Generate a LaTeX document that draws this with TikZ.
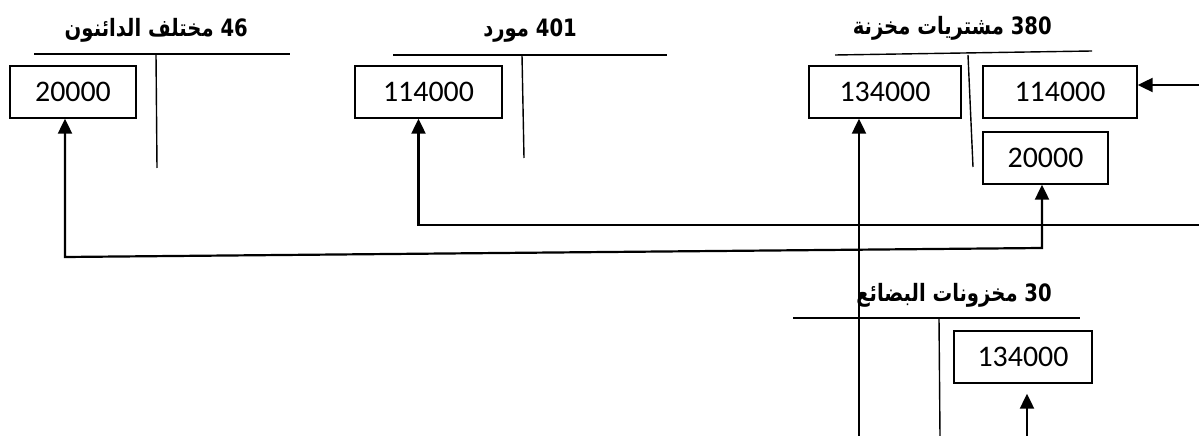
\documentclass[tikz,border=0pt]{standalone}
\usepackage{fontspec}
\setmainfont{Carlito}
\newfontfamily\arabicfont[Script=Arabic]{DejaVu Sans}
\TeXXeTstate=1
\usetikzlibrary{arrows.meta}
\newcommand{\acct}[1]{\scalebox{0.82}[1]{\beginR #1\endR}}
\begin{document}
\begin{tikzpicture}[x=1bp,y=-1bp,>={Triangle[length=15bp,width=14bp]},
    amount/.style={draw,line width=1.4bp,minimum height=52bp,inner sep=0pt,font=\fontsize{30}{32}\selectfont},
    title/.style={anchor=base east,inner sep=0pt,font=\arabicfont\bfseries\fontsize{24}{26}\selectfont},
    tline/.style={line width=1.4bp},
    flow/.style={line width=2.2bp,->}]
    \useasboundingbox (0,0) rectangle (1199,436);
    \node[title] (t46) at (248,37) {\acct{46 مختلف الدائنون}};
    \draw[tline] (34,54) -- (290,54);
    \draw[tline] (156,54) -- (157,168);
    \node[amount,minimum width=126bp] (b46) at (73,92) {20000};
    \node[title] (t401) at (577,37) {\acct{401 مورد}};
    \draw[tline] (393,55) -- (667,55);
    \draw[tline] (522,55) -- (524,158);
    \node[amount,minimum width=147bp] (b401) at (428.5,92) {114000};
    \node[title] (t380) at (1052,35) {\acct{380 مشتريات مخزنة}};
    \draw[tline] (835,55) -- (1092,51);
    \draw[tline] (968,55) -- (973,167);
    \node[amount,minimum width=152bp] (b380l) at (885,92) {134000};
    \node[amount,minimum width=154bp] (b380r) at (1060,92) {114000};
    \node[amount,minimum width=125bp] (b380d) at (1045.5,158) {20000};
    \node[title] (t30) at (1052,302) {\acct{30 مخزونات البضائع}};
    \draw[tline] (793,318) -- (1080,318);
    \draw[tline] (939,318) -- (940,436);
    \node[amount,minimum width=138bp] (b30) at (1023,357) {134000};
    \coordinate (in380) at (1199,85);
    \draw[flow] (in380) -- (in380 -| b380r.east);
    \coordinate (e401) at (1199,225);
    \draw[flow] (e401) -| ([xshift=-10bp]b401.south);
    \coordinate (k46a) at (1042,248);
    \coordinate (k46b) at (65,257);
    \draw[flow,<->] (k46b |- b46.south) -- (k46b) -- (k46a) -- (k46a |- b380d.south);
    \coordinate (s380) at (859,436);
    \draw[flow] (s380) -- (s380 |- b380l.south);
    \coordinate (s30) at (1027,436);
    \draw[flow,shorten >=10bp] (s30) -- (s30 |- b30.south);
\end{tikzpicture}
\end{document}
